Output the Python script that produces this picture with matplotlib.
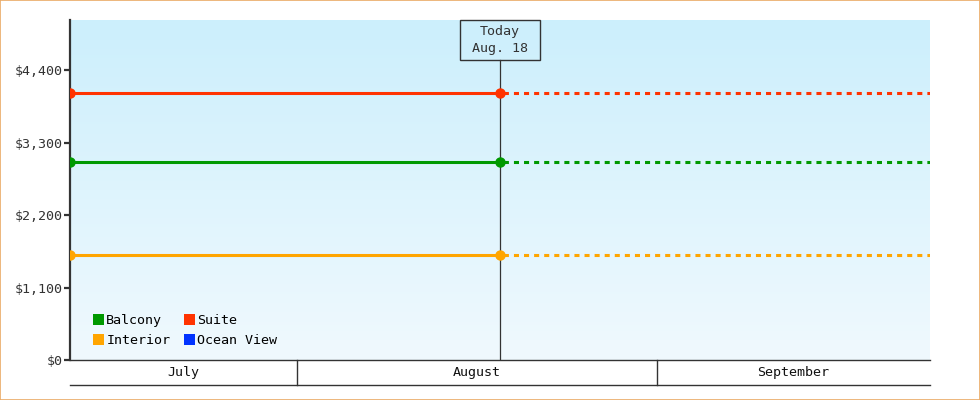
import numpy as np
import pandas as pd
import matplotlib
matplotlib.use("Agg")
import matplotlib.pyplot as plt
import matplotlib.dates as mdates
import matplotlib.transforms as mtransforms
from matplotlib.patches import Patch, Rectangle

# data
series_names = ["Suite", "Balcony", "Interior"]
series_prices = [[4050, 4050], [3010, 3010], [1600, 1600]]
price_dates = pd.to_datetime(["2024-07-12 12:00", "2024-08-18 12:00"])
range_start = pd.Timestamp("2024-07-12 12:00")
range_end = pd.Timestamp("2024-09-24 12:00")
today = pd.Timestamp("2024-08-18 12:00")
today_label = "Today\nAug. 18"
month_starts = pd.to_datetime(["2024-07-01", "2024-08-01", "2024-09-01", "2024-10-01"])
month_names = ["July", "August", "September"]
y_ticks = [0, 1100, 2200, 3300, 4400]
y_max = 5166

colors = {"Balcony": "#009900", "Suite": "#ff3300", "Interior": "#ffa500", "Ocean View": "#0033ff"}
legend_order = ["Balcony", "Interior", "Suite", "Ocean View"]

plt.rcParams['font.family'] = ['DejaVu Sans Mono']
fs = 9.6
ink = "#333333"

fig = plt.figure(figsize=(9.8, 4.0), dpi=100)
fig.patches.append(Rectangle((0, 0), 1, 1, transform=fig.transFigure, fill=False,
                             edgecolor="#eaaa66", linewidth=1.2, zorder=10))
ax = fig.add_axes([70 / 980, 40 / 400, 860 / 980, 340 / 400])

x0, x1 = mdates.date2num(range_start), mdates.date2num(range_end)
ax.set_xlim(x0, x1)
ax.set_ylim(0, y_max)

# gradient background
grad = np.linspace(0, 1, 256).reshape(-1, 1)
top = np.array([0xcc, 0xef, 0xfc]) / 255
bot = np.array([0xf0, 0xf9, 0xfe]) / 255
img = top[None, None, :] * (1 - grad[:, :, None]) + bot[None, None, :] * grad[:, :, None]
ax.imshow(img, extent=[0, 1, 0, 1], transform=ax.transAxes, aspect="auto", zorder=0)

# today marker
box_h = 40 / 340
box_w = 80 / 860
ax.axvline(mdates.date2num(today), ymin=0, ymax=1 - box_h, color=ink, lw=0.9, zorder=2)
tx = ax.transAxes.inverted().transform(ax.transData.transform((mdates.date2num(today), 0)))[0]
ax.add_patch(Rectangle((tx - box_w / 2, 1 - box_h), box_w, box_h, transform=ax.transAxes,
                       facecolor="none", edgecolor=ink, lw=1, zorder=5, clip_on=False))
ax.text(tx, 1 - box_h / 2, today_label, transform=ax.transAxes, ha="center", va="center",
        fontsize=fs, color=ink, linespacing=1.35, zorder=6)

# series
dnum = mdates.date2num(price_dates)
for name, vals in zip(series_names, series_prices):
    c = colors[name]
    ax.plot(dnum, vals, color=c, lw=2.2, marker="o", markersize=6.5, zorder=4,
            solid_capstyle="butt")
    ax.plot([dnum[-1], x1], [vals[-1], vals[-1]], color=c, lw=2.2, zorder=3,
            linestyle=(2.2, (1.65, 1.65)))

# axes styling
for s in ["top", "right", "bottom"]:
    ax.spines[s].set_visible(False)
ax.spines["left"].set_linewidth(1.6)
ax.spines["left"].set_color(ink)
ax.set_yticks(y_ticks)
ax.set_yticklabels([f"${v:,}" for v in y_ticks])
ax.tick_params(axis="y", length=4, width=1.6, color=ink, labelsize=fs, labelcolor=ink, pad=1)
ax.set_xticks([])

# month band below the plot
band = -25 / 340
ax.plot([0, 1], [0, 0], transform=ax.transAxes, color=ink, lw=1, clip_on=False, zorder=5)
ax.plot([0, 1], [band, band], transform=ax.transAxes, color=ink, lw=1, clip_on=False)
blend = mtransforms.blended_transform_factory(ax.transData, ax.transAxes)
mnum = mdates.date2num(month_starts)
for i, name in enumerate(month_names):
    a = max(mnum[i], x0)
    b = min(mnum[i + 1], x1)
    if i > 0:
        ax.plot([a, a], [0, band], transform=blend, color=ink, lw=1, clip_on=False)
    ax.text((a + b) / 2, band / 2, name, transform=blend, ha="center", va="center",
            fontsize=fs, color="#111111")

handles = [Patch(facecolor=colors[n], edgecolor="none", label=n) for n in legend_order]
ax.legend(handles=handles, ncol=2, loc="lower left", bbox_to_anchor=(23 / 860, 13 / 340),
          frameon=False, fontsize=fs, handlelength=0.85, handleheight=0.85,
          handletextpad=0.15, columnspacing=1.0, labelspacing=0.5, borderpad=0,
          borderaxespad=0)

fig.savefig("out.png", dpi=100)
